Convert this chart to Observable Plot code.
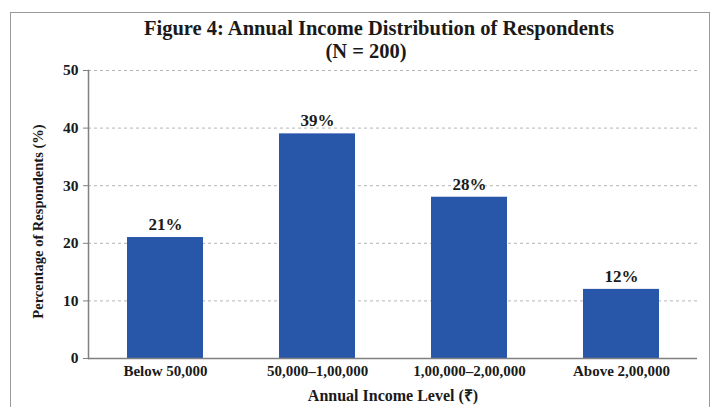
<!DOCTYPE html>
<html><head>
<meta charset="utf-8">
<script src="https://cdn.jsdelivr.net/npm/d3@7"></script>
<script src="https://cdn.jsdelivr.net/npm/@observablehq/plot@0.6"></script>
<style>
body{margin:0;background:#fff;font-family:"Liberation Serif","Times New Roman",serif;}
#wrap{position:relative;width:717px;height:407px;overflow:hidden;background:#fff;}
#frame{position:absolute;left:10px;top:12px;width:700px;height:420px;border:1px solid #9a9a9a;box-sizing:border-box;}
.t{position:absolute;font-weight:bold;color:#1a1a1a;white-space:nowrap;transform:translateX(-50%);line-height:1;}
#title{left:379px;top:18px;font-size:20.5px;}
#sub{left:366px;top:41px;font-size:20.5px;}
#plot{position:absolute;left:0;top:60px;}
</style>
</head><body>
<div id="wrap">
<div id="frame"></div>
<div class="t" id="title">Figure 4: Annual Income Distribution of Respondents</div>
<div class="t" id="sub">(N = 200)</div>
<div id="plot"></div>
</div>
<script>
const categories = ["Below 50,000", "50,000–1,00,000", "1,00,000–2,00,000", "Above 2,00,000"];
const percentages = [21, 39, 28, 12];
const yTicks = [0, 10, 20, 30, 40, 50];
const xLabel = "Annual Income Level (₹)";
const yLabel = "Percentage of Respondents (%)";

const data = categories.map((c, i) => ({category: c, value: percentages[i]}));
const font = "'Liberation Serif','Times New Roman',serif";

const chart = Plot.plot({
  width: 717,
  height: 347,
  marginTop: 10,
  marginBottom: 49,
  marginLeft: 88,
  marginRight: 20,
  style: {fontFamily: font, fontWeight: "bold", fontSize: "15px", color: "#1a1a1a", background: "transparent", overflow: "visible"},
  x: {domain: categories, paddingInner: 0.5, paddingOuter: 0.25, label: null},
  y: {domain: [0, 50], ticks: yTicks, label: null},
  marks: [
    Plot.gridY(yTicks.filter(d => d > 0), {stroke: "#b5b5b5", strokeOpacity: 1, strokeDasharray: "3,3", strokeWidth: 1}),
    Plot.barY(data, {x: "category", y: "value", fill: "#2856a9"}),
    Plot.ruleY([0], {stroke: "#808080", strokeWidth: 1.5}),
    Plot.frame({anchor: "left", stroke: "#808080", strokeWidth: 1.5}),
    Plot.axisY({ticks: yTicks, tickSize: 5, tickPadding: 5, stroke: "#808080", fontSize: 15.5, fontWeight: "bold", label: null}),
    Plot.axisX({tickSize: 0, tickPadding: 7, fontSize: 15, fontWeight: "bold", label: null}),
    Plot.text(data, {x: "category", y: "value", text: d => d.value + "%", dy: -13, fontSize: 17, fontWeight: "bold", fill: "#1a1a1a"}),
    Plot.text([xLabel], {frameAnchor: "bottom", lineAnchor: "bottom", dy: 42, fontSize: 16, fontWeight: "bold", fill: "#1a1a1a"}),
    Plot.text([yLabel], {frameAnchor: "left", textAnchor: "middle", lineAnchor: "middle", dx: -50, dy: 7, rotate: -90, fontSize: 14.5, fontWeight: "bold", fill: "#1a1a1a"})
  ]
});
document.getElementById("plot").appendChild(chart);
</script>
</body></html>
